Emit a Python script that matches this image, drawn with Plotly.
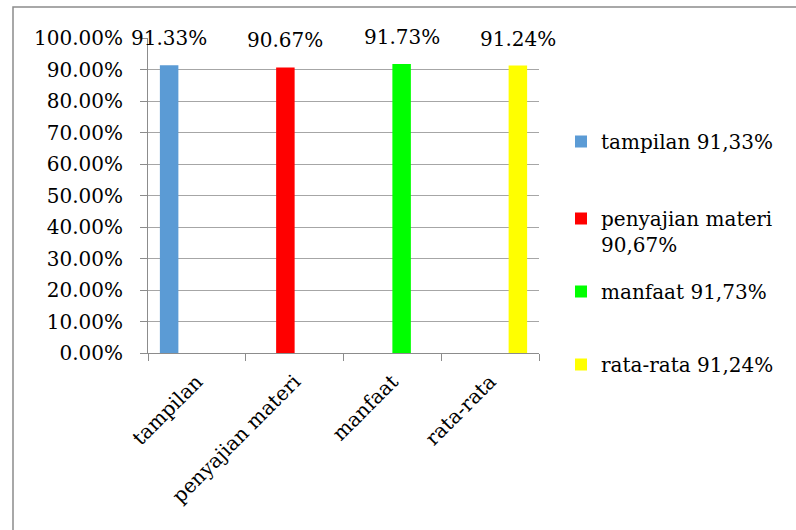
import plotly.graph_objects as go

# Survey results per aspect
categories = ["tampilan", "penyajian materi", "manfaat", "rata-rata"]
values = [0.9133, 0.9067, 0.9173, 0.9124]
legend_names = ["tampilan 91,33%", "penyajian materi<br>90,67%", "manfaat 91,73%", "rata-rata 91,24%"]
colors = ["#5b9bd5", "#ff0000", "#00ff00", "#ffff00"]

W, H = 796, 530
M_L, M_R, M_T, M_B = 148, 257, 38, 177
GROUP_FRAC = 0.757          # share of a category occupied by the bar cluster
FONT = "DejaVu Serif"
FS = 20
AXIS_GRAY = "#8c8c8c"
GRID_GRAY = "#a6a6a6"

plot_w = W - M_L - M_R
plot_h = H - M_T - M_B
n = len(categories)
slot = GROUP_FRAC / n

fig = go.Figure()
legend_ids = ["legend", "legend2", "legend3", "legend4"]
for i, (name, val, col) in enumerate(zip(legend_names, values, colors)):
    # each series only carries a value at its own category, in its own cluster slot
    ys = [val if j == i else None for j in range(n)]
    fig.add_trace(go.Bar(
        x=categories, y=ys, name=name, marker_color=col,
        marker_line_width=0, hoverinfo="skip",
        width=slot, offset=-GROUP_FRAC / 2 + i * slot,
        legend=legend_ids[i],
    ))

# value labels above the bars
cat_px = plot_w / n
for i, val in enumerate(values):
    fig.add_annotation(
        x=categories[i], y=val, xref="x", yref="y",
        text=f"{val * 100:.2f}%", showarrow=False,
        xshift=(-GROUP_FRAC / 2 + (i + 0.5) * slot) * cat_px, yshift=27, yanchor="middle",
        font=dict(family=FONT, size=FS, color="black"),
    )

# outer chart frame (runs past the right and bottom page edges)
fig.add_shape(
    type="rect", xref="paper", yref="paper",
    x0=(13 - M_L) / plot_w, x1=(W + 60 - M_L) / plot_w,
    y0=-(M_B + 60) / plot_h, y1=((H - M_B) - 7) / plot_h,
    line=dict(color=AXIS_GRAY, width=1.5), layer="below",
)

# one legend box per series so entries are evenly spread
legend_centers = [145, 222, 295, 368]
legends = {}
for lid, yc in zip(legend_ids, legend_centers):
    legends[lid] = dict(
        x=(561 - M_L) / plot_w, xanchor="left",
        y=((H - M_B) - (yc - 23)) / plot_h, yanchor="top",
        valign="top", bgcolor="rgba(0,0,0,0)",
        font=dict(family=FONT, size=FS, color="black"),
    )

fig.update_layout(
    width=W, height=H,
    margin=dict(l=M_L, r=M_R, t=M_T, b=M_B, autoexpand=False),
    paper_bgcolor="white", plot_bgcolor="white",
    barmode="overlay",
    font=dict(family=FONT, size=FS, color="black"),
    showlegend=True,
    xaxis=dict(
        type="category", range=[-0.5, n - 0.5], tickson="boundaries",
        ticks="outside", ticklen=7,
        tickcolor=AXIS_GRAY, showline=True, linecolor=AXIS_GRAY, linewidth=1,
        showgrid=False, tickangle=-45, ticklabelstandoff=8,
        tickfont=dict(family=FONT, size=FS),
    ),
    yaxis=dict(
        range=[0, 1], dtick=0.1, tickformat=".2%", ticks="outside", ticklen=7,
        tickcolor=AXIS_GRAY, showline=True, linecolor=AXIS_GRAY, linewidth=1,
        showgrid=True, gridcolor=GRID_GRAY, gridwidth=1, zeroline=False,
        ticklabelstandoff=13, tickfont=dict(family=FONT, size=FS),
    ),
    **legends,
)

fig.write_html("out.html")
